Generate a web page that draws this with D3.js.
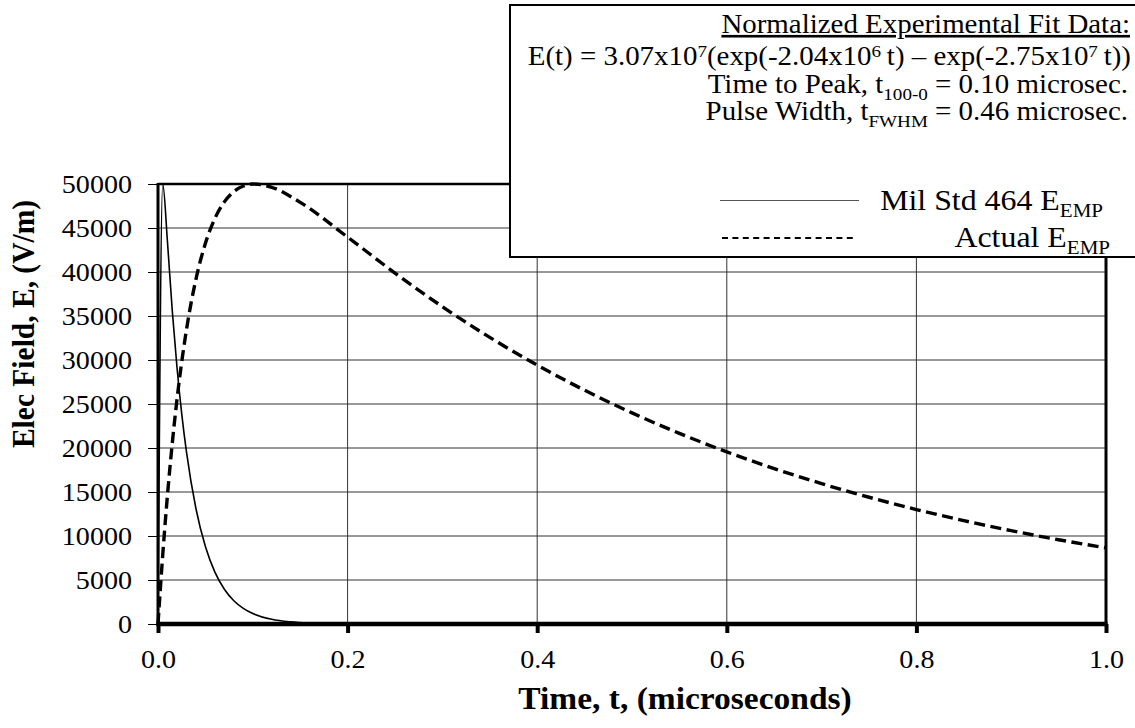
<!DOCTYPE html>
<html><head><meta charset="utf-8">
<script src="https://cdn.jsdelivr.net/npm/d3@7"></script>
<style>
html,body{margin:0;padding:0;background:#fff;}
svg{display:block;font-family:"Liberation Serif","Times New Roman",serif;}
</style></head>
<body><svg id="c" width="1135" height="728"></svg>
<script>
// ---- data ----
const xTicks = [0, 0.2, 0.4, 0.6, 0.8, 1.0];
const xTickLabels = ["0.0", "0.2", "0.4", "0.6", "0.8", "1.0"];
const yTicks = [0, 5000, 10000, 15000, 20000, 25000, 30000, 35000, 40000, 45000, 50000];
const yTickLabels = ["0", "5000", "10000", "15000", "20000", "25000", "30000", "35000", "40000", "45000", "50000"];

const milTime = [0, 0.005, 0.01, 0.015, 0.02, 0.025, 0.03, 0.04, 0.05, 0.06, 0.07, 0.08, 0.09, 0.10, 0.12, 0.14, 0.16, 0.20, 0.30, 0.40, 0.50, 0.60, 0.70, 0.80, 0.90, 1.00];
const milField = [0, 49981, 43410, 35665, 29206, 23912, 19577, 13123, 8797, 5897, 3953, 2649, 1776, 1190, 535, 240, 108, 22, 0, 0, 0, 0, 0, 0, 0, 0];

const actTime = [0, 0.005, 0.01, 0.015, 0.02, 0.03, 0.04, 0.05, 0.06, 0.07, 0.08, 0.09, 0.10, 0.12, 0.15, 0.20, 0.25, 0.30, 0.35, 0.40, 0.45, 0.50, 0.55, 0.60, 0.65, 0.70, 0.75, 0.80, 0.85, 0.90, 0.95, 1.00];
const actField = [0, 7871, 14651, 20481, 25484, 33422, 39168, 43254, 46085, 47968, 49137, 49768, 49996, 49627, 47914, 43966, 39880, 36057, 32570, 29417, 26565, 23989, 21663, 19562, 17665, 15952, 14405, 13008, 11747, 10607, 9579, 8650];

const seriesNames = ["Mil Std 464 E", "Actual E"];
const xTitle = "Time, t, (microseconds)";
const yTitle = "Elec Field, E, (V/m)";

// ---- layout ----
const SX = 1.08; // slight horizontal stretch of the reference's lettering
const svg = d3.select("#c");
const L = 158, R = 1106, T = 184, B = 624;
const x = d3.scaleLinear().domain([0, 1]).range([L, R]);
const y = d3.scaleLinear().domain([0, 50000]).range([B, T]);

// gridlines
svg.append("g").selectAll("line").data(yTicks.slice(1, -1)).join("line")
  .attr("x1", L).attr("x2", R).attr("y1", d => y(d)).attr("y2", d => y(d))
  .attr("stroke", "#333").attr("stroke-width", 1);
svg.append("g").selectAll("line").data(xTicks.slice(1, -1)).join("line")
  .attr("y1", T).attr("y2", B).attr("x1", d => x(d)).attr("x2", d => x(d))
  .attr("stroke", "#333").attr("stroke-width", 1);

// y axis
const yAxis = d3.axisLeft(y).tickValues(yTicks).tickFormat((d, i) => yTickLabels[i]).tickSize(10).tickPadding(0);
const gy = svg.append("g").attr("transform", `translate(${L},0)`).call(yAxis);
gy.select(".domain").remove();
gy.selectAll(".tick line").attr("stroke", "#000").attr("stroke-width", 1);
gy.selectAll(".tick text").attr("x", 0).attr("dy", null).attr("dominant-baseline", "central")
  .attr("transform", `translate(-26,0) scale(${SX},1)`)
  .attr("font-size", 26).attr("font-family", "Liberation Serif").attr("fill", "#000");

// x axis
const xAxis = d3.axisBottom(x).tickValues(xTicks).tickFormat((d, i) => xTickLabels[i]).tickSize(9).tickPadding(0);
const gx = svg.append("g").attr("transform", `translate(0,${B})`).call(xAxis);
gx.select(".domain").remove();
gx.selectAll(".tick line").attr("stroke", "#000").attr("stroke-width", 4);
gx.selectAll(".tick text").attr("y", 0).attr("dy", null)
  .attr("transform", `translate(0,44) scale(${SX},1)`)
  .attr("font-size", 26).attr("font-family", "Liberation Serif").attr("fill", "#000");

// frame
svg.append("line").attr("x1", L).attr("x2", R).attr("y1", T).attr("y2", T).attr("stroke", "#000").attr("stroke-width", 2.5);
svg.append("line").attr("x1", R).attr("x2", R).attr("y1", T).attr("y2", B).attr("stroke", "#000").attr("stroke-width", 3);

// series
const lineMil = d3.line().x((d, i) => x(milTime[i])).y(d => y(d)).curve(d3.curveMonotoneX);
const lineAct = d3.line().x((d, i) => x(actTime[i])).y(d => y(d)).curve(d3.curveMonotoneX);
svg.append("path").attr("d", lineMil(milField)).attr("fill", "none").attr("stroke", "#000").attr("stroke-width", 1.6);
svg.append("path").attr("d", lineAct(actField)).attr("fill", "none").attr("stroke", "#000").attr("stroke-width", 3.4).attr("stroke-dasharray", "11,5.5");

// axes lines on top
svg.append("line").attr("x1", L).attr("x2", L).attr("y1", T - 1).attr("y2", B + 2).attr("stroke", "#000").attr("stroke-width", 3);
svg.append("line").attr("x1", L - 1.5).attr("x2", R + 1.5).attr("y1", B).attr("y2", B).attr("stroke", "#000").attr("stroke-width", 4.5);

// axis titles
svg.append("text").attr("transform", `translate(685,709) scale(${SX},1)`).attr("text-anchor", "middle")
  .attr("font-size", 31).attr("font-weight", "bold").text(xTitle);
svg.append("text").attr("transform", `translate(34,324) scale(${SX},1) rotate(-90)`).attr("text-anchor", "middle")
  .attr("font-size", 29.5).attr("font-weight", "bold").text(yTitle);

// legend / annotation box
const box = svg.append("g");
box.append("rect").attr("x", 510).attr("y", 5).attr("width", 640).attr("height", 252)
  .attr("fill", "#fff").attr("stroke", "#000").attr("stroke-width", 2);
const tx = 1130, fs = 26.3, HS = 1.1;
function boxText(xPos, yPos, size, stretch, parts, underline) {
  const t = box.append("text").attr("transform", `translate(${xPos},${yPos}) scale(${stretch},1)`)
    .attr("text-anchor", "end").attr("font-size", size);
  if (underline) t.attr("text-decoration", "underline");
  let shift = 0;
  parts.forEach(p => {
    const s = t.append("tspan").text(p.t);
    let target = 0;
    if (p.sup) { s.attr("font-size", size * 0.66); target = -size * 0.32; }
    else if (p.sub) { s.attr("font-size", size * 0.66); target = size * 0.25; }
    if (target - shift !== 0) s.attr("dy", target - shift);
    shift = target;
  });
  return t;
}
boxText(tx, 33, fs, HS, [{t: "Normalized Experimental Fit Data:"}], true);
boxText(tx + 1, 65, fs, HS, [
  {t: "E(t) = 3.07x10"}, {t: "7", sup: true}, {t: "(exp(-2.04x10"}, {t: "6", sup: true},
  {t: "\u2009t) \u2013 exp(-2.75x10"}, {t: "7", sup: true}, {t: "\u2009t))"}
]);
boxText(tx - 2, 93, fs, HS, [{t: "Time to Peak, t"}, {t: "100-0", sub: true}, {t: " = 0.10 microsec."}]);
boxText(tx - 2, 120, fs, HS, [{t: "Pulse Width, t"}, {t: "FWHM", sub: true}, {t: " = 0.46 microsec."}]);

// legend entries
box.append("line").attr("x1", 720).attr("x2", 859).attr("y1", 200.5).attr("y2", 200.5).attr("stroke", "#555").attr("stroke-width", 1.2);
box.append("line").attr("x1", 722).attr("x2", 857).attr("y1", 238).attr("y2", 238).attr("stroke", "#000").attr("stroke-width", 2).attr("stroke-dasharray", "6,4.4");
boxText(1103, 210, 29.5, SX, [{t: seriesNames[0]}, {t: "EMP", sub: true}]);
boxText(1110, 247, 29.5, SX, [{t: seriesNames[1]}, {t: "EMP", sub: true}]);
</script></body></html>
